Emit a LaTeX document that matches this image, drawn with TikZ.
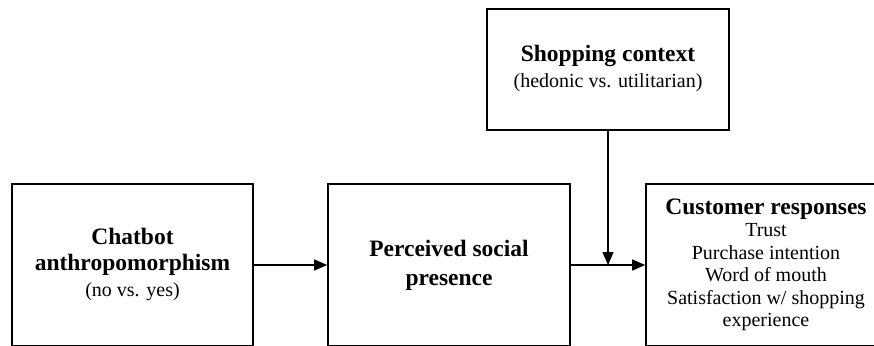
\documentclass[tikz,border=0pt]{standalone}
\usepackage{fontspec}
\setmainfont{Liberation Serif}
\usepackage{tikz}
\usetikzlibrary{arrows.meta}
\newcommand{\headfont}{\fontsize{23.5}{26}\selectfont\bfseries}
\newcommand{\bodyfont}{\fontsize{20}{22.5}\selectfont\mdseries}
\tikzset{
  box/.style={draw,line width=1.6pt,align=center,inner sep=2pt,minimum width=241pt,minimum height=162pt},
  ar/.style={-{Triangle[length=13pt,width=11pt]},line width=1.4pt}
}
\begin{document}
\begin{tikzpicture}[x=1pt,y=-1pt]
\clip (0,0) rectangle (874,345);
\node[box,font=\headfont] (cha) at (132.5,265) {Chatbot\\anthropomorphism\\\bodyfont (no vs. yes)};
\node[box,font=\headfont,minimum width=242pt] (psp) at (449,265) {Perceived social\\[3pt]presence};
\node[box,font=\bodyfont,minimum width=240pt] (cus) at (766,265) {\headfont Customer responses\\Trust\\Purchase intention\\Word of mouth\\Satisfaction w/ shopping\\experience};
\node[box,font=\bodyfont,minimum width=242pt,minimum height=121pt] (ctx) at (608,69.5) {\headfont Shopping context\\[4pt](hedonic vs. utilitarian)\\[-16pt]};
\coordinate (mod) at (ctx.south |- psp.east);
\draw[ar] (cha.east) -- (psp.west);
\draw[ar] (psp.east) -- (cus.west);
\draw[ar] (ctx.south) -- (mod);
\end{tikzpicture}
\end{document}
